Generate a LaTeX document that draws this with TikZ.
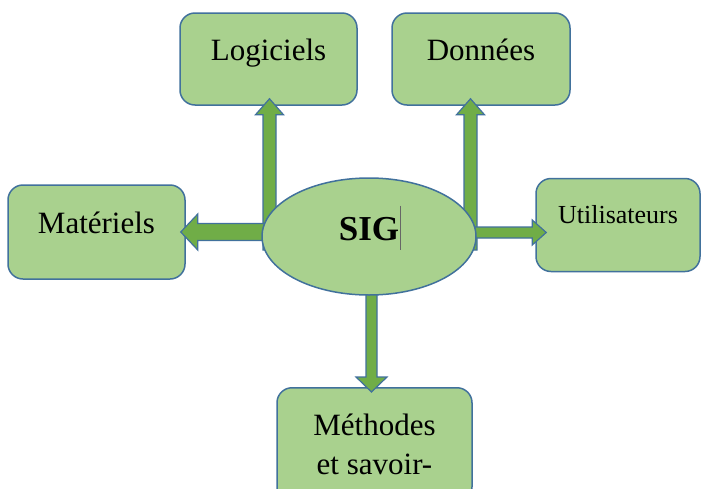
\documentclass[tikz,border=0pt]{standalone}
\usepackage{fontspec}
\setmainfont{Liberation Serif}
\usetikzlibrary{shapes.geometric,calc}
\definecolor{boxfill}{HTML}{A9D18E}
\definecolor{boxline}{HTML}{41719C}
\definecolor{arrfill}{HTML}{70AD47}
\tikzset{
  box/.style={draw=boxline, fill=boxfill, line width=1.5pt, rounded corners=15pt, inner sep=0pt, font=\fontsize{31}{39}\selectfont},
  arrowsty/.style={draw=boxline, fill=arrfill, line width=1.2pt, line join=miter},
  hub/.style={ellipse, draw=boxline, fill=boxfill, line width=1.5pt, inner sep=0pt, minimum width=214pt, minimum height=117pt, font=\fontsize{35}{40}\selectfont\bfseries},
}
\newcommand{\blockarr}[5]{%
  \coordinate (bah) at ($(#2)!#5!(#1)$);
  \draw[arrowsty] ($(#1)!#3!90:(#2)$) -- ($(bah)!#3!-90:(#1)$) -- ($(bah)!#4!-90:(#1)$) -- (#2) -- ($(bah)!#4!90:(#1)$) -- ($(bah)!#3!90:(#1)$) -- ($(#1)!#3!-90:(#2)$) -- cycle;
}
\begin{document}
\begin{tikzpicture}[x=1pt,y=-1pt]
\useasboundingbox[fill=white] (0,0) rectangle (702,488);
% boxes
\node[box, minimum width=177pt, text height=47pt, text depth=45pt] (log) at (268.5,59) {Logiciels};
\node[box, minimum width=178pt, text height=47pt, text depth=45pt] (don) at (481,59) {Données};
\node[box, minimum width=177pt, text height=48pt, text depth=46pt] (mat) at (96.5,232) {Matériels};
\node[box, minimum width=164pt, text height=45pt, text depth=48pt, font=\fontsize{26}{32}\selectfont] (uti) at (618,225) {Utilisateurs};
\node[box, minimum width=195pt, minimum height=114pt, anchor=north, align=center] (met) at (374.5,387) {Méthodes\\et savoir-};
% arrow anchors
\coordinate (aLs) at (269.5,250);
\coordinate (aLt) at ($(log.south)+(1,-7)$);
\coordinate (aDs) at (470.5,250);
\coordinate (aDt) at ($(don.south)+(-10.5,-7)$);
\coordinate (aMs) at (300,232);
\coordinate (aMt) at ($(mat.east)+(-5,0)$);
\coordinate (aUs) at (440,232.5);
\coordinate (aUt) at ($(uti.west)+(11,7.5)$);
\coordinate (aEs) at (371.5,260);
\coordinate (aEt) at ($(met.north)+(-3,5)$);
\blockarr{aLs}{aLt}{6.5pt}{14pt}{16pt}
\blockarr{aDs}{aDt}{6.5pt}{14pt}{16pt}
\blockarr{aMs}{aMt}{8.5pt}{18pt}{17pt}
\blockarr{aUs}{aUt}{5.5pt}{12.5pt}{14pt}
\blockarr{aEs}{aEt}{5.5pt}{15.5pt}{15pt}
% hub
\node[hub, text height=23pt, text depth=16pt] (sig) at (369,236.5) {SIG};
\draw[gray!80!black, line width=0.8pt] ($(sig.center)+(31,-31)$) -- ($(sig.center)+(31,13)$);
\end{tikzpicture}
\end{document}
